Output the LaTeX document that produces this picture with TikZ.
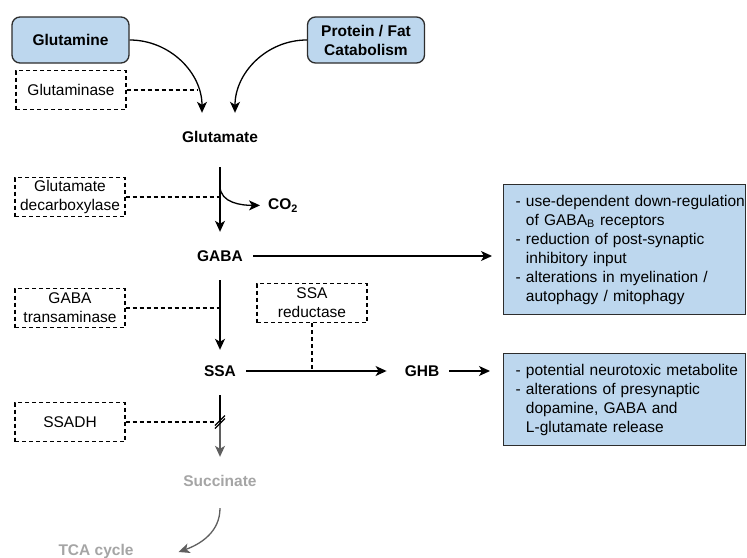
\documentclass[tikz,border=0pt]{standalone}
\usepackage{fontspec}
\setmainfont{Liberation Sans}
\usetikzlibrary{arrows.meta}

\definecolor{boxblue}{RGB}{189,215,238}
\definecolor{framegray}{RGB}{45,45,45}
\definecolor{fadedgray}{RGB}{165,165,165}
\definecolor{arrowgray}{RGB}{95,95,95}
\newcommand{\diagfont}{\fontsize{15.5}{19}\selectfont}

\begin{document}
\begin{tikzpicture}[x=1pt, y=-1pt, font=\diagfont]

        % Styles
        \tikzstyle{source}=[draw=framegray, fill=boxblue, line width=1.3pt, rounded corners=8pt, minimum width=117pt, minimum height=46pt, align=center, font=\diagfont\bfseries]
        \tikzstyle{enzyme}=[draw=black, dash pattern=on 4pt off 3pt, line width=1.3pt, minimum width=110pt, minimum height=39pt, inner sep=2pt, align=center]
        \tikzstyle{metabolite}=[font=\diagfont\bfseries, minimum height=48pt, inner ysep=0pt, inner xsep=10pt]
        \tikzstyle{effect}=[draw=framegray, fill=boxblue, line width=1.3pt, text width=242pt, inner xsep=0pt, align=left, anchor=north west, execute at begin node={\leftskip=12pt}]
        \tikzstyle{flow}=[-{Stealth[length=11pt,width=10pt,inset=3pt]}, line width=1.3pt]
        \tikzstyle{enzyme line}=[dash pattern=on 4pt off 3pt, line width=1.3pt]
        %The graphic
        \useasboundingbox (0,0) rectangle (747,557);

        % sources and metabolites
        \node[source] (glutamine) at (70.5,40) {Glutamine};
        \node[source] (protein) at (366,40) {Protein / Fat\\Catabolism};
        \node[metabolite] (glutamate) at (220,137) {Glutamate};
        \node[metabolite] (gaba) at (220,256) {GABA};
        \node[metabolite] (ssa) at (220,371) {SSA};
        \node[metabolite] (ghb) at (422,371) {GHB};
        \node[metabolite, text=fadedgray] (succinate) at (220,481) {Succinate};
        \node[metabolite, text=fadedgray] (tca) at (96,551) {TCA cycle};
        \node[anchor=base west, inner sep=0pt, font=\diagfont\bfseries] (co2) at (268,209.5) {CO\textsubscript{2}};

        % enzymes
        \node[enzyme] (glutaminase) at (71,90) {Glutaminase};
        \node[enzyme] (decarboxylase) at (70,197) {Glutamate\\decarboxylase};
        \node[enzyme] (transaminase) at (70,308) {GABA\\transaminase};
        \node[enzyme] (ssadh) at (70,422) {SSADH};
        \node[enzyme] (reductase) at (312,303) {SSA\\reductase};

        % effects
        \node[effect, minimum height=130pt] (receptor) at (503,184) {- use-dependent down-regulation\\\phantom{- }of GABA\textsubscript{B} receptors\\- reduction of post-synaptic\\\phantom{- }inhibitory input\\- alterations in myelination /\\\phantom{- }autophagy / mitophagy};
        \node[effect, minimum height=92pt] (neuro) at (503,353) {- potential neurotoxic metabolite\\- alterations of presynaptic\\\phantom{- }dopamine, GABA and\\\phantom{- }L-glutamate release};

        % pathway
        \draw[flow] (glutamine.east) to[out=0, in=90] ([xshift=-18pt]glutamate.north);
        \draw[flow] (protein.west) to[out=180, in=90] ([xshift=15pt]glutamate.north);
        \draw[flow] ([yshift=-6pt]glutamate.south) -- (gaba.north);
        \coordinate (branch) at (220,186);
        \draw[flow] (branch) to[out=-90, in=180] ([xshift=-8pt]co2.west);
        \draw[flow] (gaba.south) -- ([yshift=-3pt]ssa.north);
        \draw[flow] (gaba.east) -- (gaba.east -| receptor.west) [shorten >=11pt];
        \draw[flow] (ssa.east) -- ([xshift=-8pt]ghb.west);
        \draw[flow, shorten >=13pt] (ghb.east) -- (ghb.east -| neuro.west);

        % blocked step
        \coordinate (block) at (ssa.south |- ssadh.east);
        \draw[line width=1.3pt] (ssa.south) -- (block);
        \draw[flow, arrowgray] (block) -- (succinate.north);
        \foreach \d in {-1.5,1.5}
            \draw[line width=1.1pt] ([xshift=-5pt, yshift={\d*1pt-5pt}]block) -- ([xshift=5pt, yshift={\d*1pt+5pt}]block);
        \draw[flow, arrowgray] ([yshift=-3pt]succinate.south) to[out=-90, in=20] ([xshift=35pt, yshift=-1pt]tca.east);

        % enzyme links
        \coordinate (glutaminase end) at (198,90);
        \draw[enzyme line] (glutaminase.east) -- (glutaminase end);
        \draw[enzyme line] (decarboxylase.east) -- (decarboxylase.east -| gaba);
        \draw[enzyme line] (transaminase.east) -- (transaminase.east -| gaba);
        \draw[enzyme line] (ssadh.east) -- ([xshift=-5pt]block);
        \draw[enzyme line] (reductase.south) -- (reductase.south |- ssa);
\end{tikzpicture}
\end{document}
